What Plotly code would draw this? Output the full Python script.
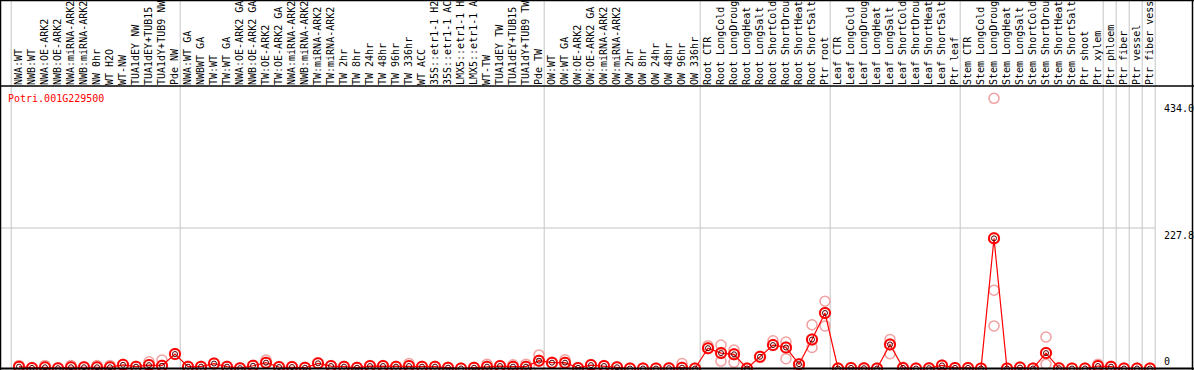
import plotly.graph_objects as go

gene_id = "Potri.001G229500"

labels = [
    "NWA:WT", "NWB:WT", "NWA:OE-ARK2", "NWB:OE-ARK2", "NWA:miRNA-ARK2", "NWB:miRNA-ARK2",
    "NW 0hr", "WT H2O", "WT-NW", "TUA1dEY NW", "TUA1dEY+TUB15 NW", "TUA1dY+TUB9 NW", "Pde NW",
    "NWA:WT GA", "NWBWT GA", "TW:WT", "TW:WT GA", "NWA:OE-ARK2 GA", "NWB:OE-ARK2 GA",
    "TW:OE-ARK2", "TW:OE-ARK2 GA", "NWA:miRNA-ARK2", "NWB:miRNA-ARK2", "TW:miRNA-ARK2",
    "TW:miRNA-ARK2", "TW 2hr", "TW 8hr", "TW 24hr", "TW 48hr", "TW 96hr", "TW 336hr",
    "WT ACC", "35S::etr1-1 H2O", "35S::etr1-1 ACC", "LMX5::etr1-1 H2O", "LMX5::etr1-1 ACC",
    "WT-TW", "TUA1dEY TW", "TUA1dEY+TUB15 TW", "TUA1dY+TUB9 TW", "Pde TW",
    "OW:WT", "OW:WT GA", "OW:OE-ARK2", "OW:OE-ARK2 GA", "OW:miRNA-ARK2", "OW:miRNA-ARK2",
    "OW 2hr", "OW 8hr", "OW 24hr", "OW 48hr", "OW 96hr", "OW 336hr",
    "Root CTR", "Root LongCold", "Root LongDrought", "Root LongHeat", "Root LongSalt",
    "Root ShortCold", "Root ShortDrought", "Root ShortHeat", "Root ShortSalt", "Ptr root",
    "Leaf CTR", "Leaf LongCold", "Leaf LongDrought", "Leaf LongHeat", "Leaf LongSalt",
    "Leaf ShortCold", "Leaf ShortDrought", "Leaf ShortHeat", "Leaf ShortSalt", "Ptr leaf",
    "Stem CTR", "Stem LongCold", "Stem LongDrought", "Stem LongHeat", "Stem LongSalt",
    "Stem ShortCold", "Stem ShortDrought", "Stem ShortHeat", "Stem ShortSalt",
    "Ptr shoot", "Ptr xylem", "Ptr phloem", "Ptr fiber", "Ptr vessel", "Ptr fiber vessel",
]

means = [
    3, 1, 2, 0.5, 2, 2, 2, 2, 6, 3, 5.5, 4.5, 23.5,
    3, 3, 8, 3, 0.5, 4.5, 9.5, 2.4, 2.4, 1.3, 8.4, 4, 3, 1.3, 4, 4, 3, 4,
    3, 3, 1.3, 0, 1.3, 3, 4, 3, 3, 12.7,
    9.5, 9.5, 1, 5.5, 4, 2, 0, 0, 0, 0.5, 1.3, 0,
    33, 25, 23, 0, 19, 38, 34, 7, 47, 90,
    0, 1, 0.5, 0, 39, 1, 0, 0.5, 5, 1,
    1, 0, 211, 0, 1.5, 0, 25, 0.5, 0, 0,
    4, 3, 0, 0, 0,
]

# replicate values that sit apart from the mean marker
rep_index = [0, 2, 4, 6, 7, 10, 11, 19, 30, 36, 38, 39, 40, 40, 42, 42, 51,
             53, 54, 54, 55, 55, 58, 59, 59, 60, 61, 61, 62, 62,
             67, 67, 68, 75, 75, 75, 79, 79, 83]
rep_value = [5, 5, 5, 5, 5, 11, 13.8, 13.8, 8, 7, 6, 7, 22, 3, 14, 0, 8,
             37, 38, 12, 30, 10, 45, 43, 16, 0, 71, 34, 109, 69,
             47, 24, 2, 438, 127, 69, 51, 7, 7]

group_ends = [-1, 12, 40, 52, 62, 72, 83, 84, 85, 86, 87]
y_ticks = [0, 227.8, 434.0]
y_tick_text = ["0", "227.8", "434.0"]

MONO = "DejaVu Sans Mono"
x = list(range(len(labels)))

fig = go.Figure()
fig.add_trace(go.Scatter(
    x=x, y=means, mode="markers",
    marker=dict(symbol="circle-open", size=11, color="#f2a0a0", line=dict(width=1.5)),
    hoverinfo="skip", showlegend=False))
fig.add_trace(go.Scatter(
    x=rep_index, y=rep_value, mode="markers",
    marker=dict(symbol="circle-open", size=10, color="#f2a0a0", line=dict(width=1.5)),
    showlegend=False, cliponaxis=False))
fig.add_trace(go.Scatter(
    x=x, y=means, mode="lines+markers",
    line=dict(color="red", width=1.2),
    marker=dict(symbol="circle-open", size=10, color="red", line=dict(width=2)),
    showlegend=False))
fig.add_trace(go.Scatter(
    x=x, y=means, mode="markers",
    marker=dict(symbol="circle-open", size=5, color="#500000", line=dict(width=1)),
    hoverinfo="skip", showlegend=False))

TOP = 1 + 86 / 284
shapes = []
for g in group_ends:
    shapes.append(dict(type="line", xref="x", yref="paper", x0=g + 0.4, x1=g + 0.4,
                       y0=0, y1=TOP, line=dict(color="#c4c4c4", width=1), layer="below"))
shapes.append(dict(type="line", xref="paper", yref="y", x0=0, x1=1155 / 1194,
                   y0=y_ticks[1], y1=y_ticks[1], line=dict(color="#c4c4c4", width=1), layer="below"))
# frame
shapes.append(dict(type="line", xref="paper", yref="paper", x0=0, x1=1, y0=1, y1=1,
                   line=dict(color="black", width=1.5)))
shapes.append(dict(type="line", xref="paper", yref="paper", x0=0, x1=1, y0=TOP - 0.5 / 284, y1=TOP - 0.5 / 284,
                   line=dict(color="black", width=1.5)))
shapes.append(dict(type="line", xref="paper", yref="paper", x0=0.5 / 1194, x1=0.5 / 1194, y0=0, y1=TOP,
                   line=dict(color="black", width=1.5)))
shapes.append(dict(type="line", xref="paper", yref="paper", x0=1 - 1.5 / 1194, x1=1 - 1.5 / 1194, y0=0, y1=TOP,
                   line=dict(color="black", width=1.5)))
shapes.append(dict(type="line", xref="paper", yref="y", x0=0, x1=1, y0=0, y1=0,
                   line=dict(color="black", width=2)))

annotations = [dict(text=gene_id, xref="paper", yref="paper", x=6 / 1194, y=1 - 5 / 284,
                    xanchor="left", yanchor="top", showarrow=False,
                    font=dict(family=MONO, size=10, color="red"))]
anchors = ["bottom", "top", "top"]
for v, t, a in zip(y_ticks, y_tick_text, anchors):
    annotations.append(dict(text=t, xref="paper", yref="y", x=1162 / 1194, y=v,
                            xanchor="left", yanchor=a, showarrow=False,
                            font=dict(family=MONO, size=10, color="black")))

fig.update_layout(
    width=1194, height=370,
    margin=dict(l=0, r=0, t=86, b=0, pad=0),
    paper_bgcolor="white", plot_bgcolor="white",
    xaxis=dict(range=[-19 / 13, (1194 - 19) / 13], side="top", tickmode="array",
               tickvals=x, ticktext=labels, tickangle=-90, ticks="",
               tickfont=dict(family=MONO, size=10, color="black"),
               showgrid=False, zeroline=False, showline=False, automargin=False),
    yaxis=dict(range=[-2.43, 458.0], showticklabels=False, showgrid=False,
               zeroline=False, showline=False, ticks=""),
    shapes=shapes, annotations=annotations,
)
fig.write_html("out.html", config={"displayModeBar": False},
               post_script="document.body.style.margin='0';document.body.style.overflow='hidden';")
